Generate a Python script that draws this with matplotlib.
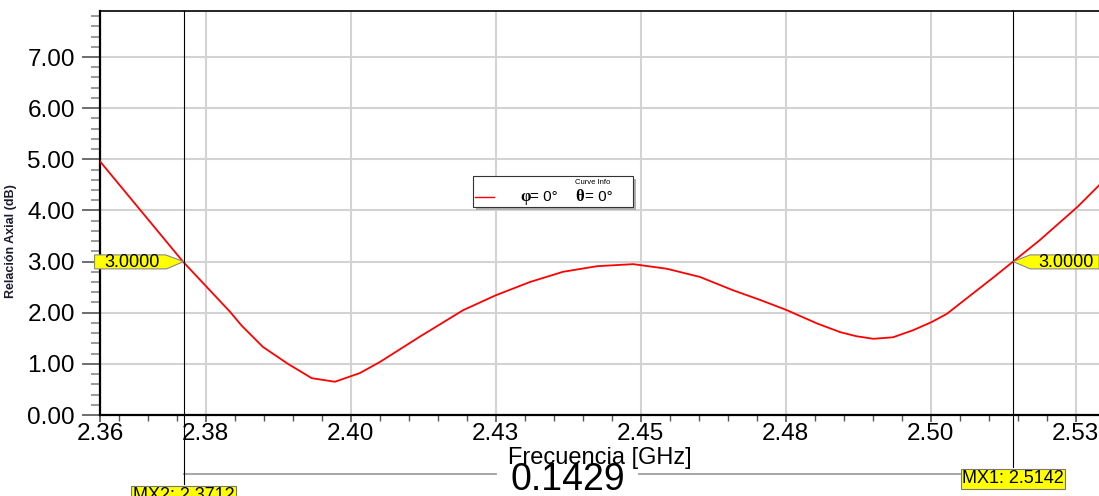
import numpy as np
import matplotlib
matplotlib.use('Agg')
from matplotlib import pyplot as plt
from matplotlib.patches import Polygon, Rectangle
from matplotlib.transforms import ScaledTranslation, blended_transform_factory

plt.rcParams['font.family'] = ['Liberation Sans', 'DejaVu Sans']

# curve (GHz, dB)
freq = [2.3568, 2.3711, 2.3749, 2.3792, 2.3812, 2.3849, 2.3892, 2.3933, 2.3973,
        2.4016, 2.4051, 2.4119, 2.4194, 2.4250, 2.4309, 2.4366, 2.4425, 2.4487,
        2.4545, 2.4602, 2.4659, 2.4706, 2.4752, 2.4804, 2.4844, 2.4872, 2.4901,
        2.4935, 2.4970, 2.5002, 2.5028, 2.5073, 2.5108, 2.5142, 2.5188, 2.5253,
        2.5290]
axial = [4.96, 3.00, 2.54, 2.02, 1.75, 1.33, 1.00, 0.72, 0.65,
         0.82, 1.04, 1.53, 2.05, 2.34, 2.60, 2.80, 2.91, 2.95,
         2.86, 2.70, 2.44, 2.25, 2.05, 1.79, 1.62, 1.54, 1.49,
         1.52, 1.66, 1.82, 1.98, 2.38, 2.69, 3.00, 3.42, 4.07,
         4.49]

marker_names = ['MX2', 'MX1']
marker_freq = [2.3712, 2.5142]
marker_level = 3.0
delta_text = '0.1429'

x_ticks = [2.3568, 2.375, 2.400, 2.425, 2.450, 2.475, 2.500, 2.525]
x_labels = ['2.36', '2.38', '2.40', '2.43', '2.45', '2.48', '2.50', '2.53']
y_ticks = [0, 1, 2, 3, 4, 5, 6, 7]
y_labels = ['0.00', '1.00', '2.00', '3.00', '4.00', '5.00', '6.00', '7.00']

fig = plt.figure(figsize=(10.99, 4.96), dpi=100)
ax = fig.add_axes([100/1099, 81/496, 999/1099, 404/496])

ax.plot(freq, axial, color='red', lw=1.3, zorder=4)

ax.set_xlim(2.3568, 2.5290)
ax.set_ylim(0, 7.9)
ax.set_xticks(x_ticks)
ax.set_xticklabels(x_labels)
ax.set_xticks(np.arange(2.360, 2.530, 0.005), minor=True)
ax.set_yticks(y_ticks)
ax.set_yticklabels(y_labels)
ax.set_yticks(np.arange(0, 7.9, 0.2), minor=True)

ax.grid(True, which='major', color='#d3d3d3', lw=1.5)
ax.tick_params(axis='x', which='major', length=5, width=1.2, color='#555555',
               labelsize=17.5, pad=1)
ax.tick_params(axis='x', which='minor', length=4, width=1.0, color='#555555')
ax.tick_params(axis='y', which='major', length=13, width=1.2, color='#555555',
               labelsize=17.5, pad=5)
ax.tick_params(axis='y', which='minor', length=6.5, width=1.2, color='#888888')

ax.spines['right'].set_visible(False)
ax.spines['top'].set_linewidth(1.2)
ax.spines['left'].set_linewidth(1.6)
ax.spines['bottom'].set_linewidth(1.6)

ax.set_xlabel('Frecuencia [GHz]', fontsize=17, labelpad=1)
ax.set_ylabel('Relación Axial (dB)', fontsize=9, fontweight='bold', color='#1b1b2f')
ax.yaxis.set_label_coords(-0.083, 0.43)

# markers
xb = blended_transform_factory(ax.transData, ax.transAxes)
line_bottom = [-0.171, -0.129]
label_y = [-0.20, -0.158]
for name, f, yb, ly in zip(marker_names, marker_freq, line_bottom, label_y):
    ax.axvline(f, ymin=yb, ymax=1, color='black', lw=0.8, clip_on=False, zorder=5)
    ax.text(f, ly, '%s: %.4f' % (name, f), transform=xb, ha='center', va='center',
            fontsize=13, clip_on=False, zorder=7,
            bbox=dict(boxstyle='square,pad=0.08', fc='#ffff00', ec='#777777', lw=0.8))

# yellow level flags
left_pts = [(-0.89, 0.067), (-0.18, 0.067), (0, 0), (-0.17, -0.073), (-0.89, -0.073)]
right_pts = [(0, 0), (0.17, 0.067), (0.86, 0.067), (0.86, -0.073), (0.17, -0.073)]
for f, pts, tx in zip(marker_freq, [left_pts, right_pts], [-0.52, 0.53]):
    tr = fig.dpi_scale_trans + ScaledTranslation(f, marker_level, ax.transData)
    ax.add_patch(Polygon(pts, closed=True, transform=tr, fc='#ffff00', ec='#888888',
                         lw=0.8, clip_on=False, zorder=6))
    ax.text(tx, -0.005, '%.4f' % marker_level, transform=tr, ha='center', va='center',
            fontsize=13, clip_on=False, zorder=7)

# delta line between markers
dy = -0.146
mid = (marker_freq[0] + marker_freq[1]) / 2 - 0.0053
gap = 0.0123
ax.plot([marker_freq[0], mid - gap], [dy, dy], transform=xb, color='#a0a0a0', lw=1.3,
        clip_on=False)
ax.plot([mid + gap, marker_freq[1]], [dy, dy], transform=xb, color='#a0a0a0', lw=1.3,
        clip_on=False)
ax.text(mid, dy - 0.014, delta_text, transform=xb, ha='center', va='center',
        fontsize=27, clip_on=False)

# curve info box
lx0, ly0, lw_, lh = 0.3734, 0.5149, 0.1602, 0.0767
ax.add_patch(Rectangle((lx0 + 0.003, ly0 - 0.0074), lw_, lh, transform=ax.transAxes,
                       fc='#b0b0b0', ec='none', zorder=8))
ax.add_patch(Rectangle((lx0, ly0), lw_, lh, transform=ax.transAxes,
                       fc='white', ec='#333333', lw=0.8, zorder=9))
ax.text(0.4935, 0.5767, 'Curve Info', transform=ax.transAxes, fontsize=5.5,
        ha='center', va='center', zorder=10)
ax.plot([0.3754, 0.3944], [0.5396, 0.5396], transform=ax.transAxes, color='red',
        lw=1.0, zorder=10)
ax.text(0.4204, 0.5396, 'φ', transform=ax.transAxes, fontsize=12, fontweight='bold',
        family='Liberation Serif', ha='left', va='center', zorder=10)
ax.text(0.4304, 0.5396, '= 0°', transform=ax.transAxes, fontsize=11,
        ha='left', va='center', zorder=10)
ax.text(0.4755, 0.5396, 'θ', transform=ax.transAxes, fontsize=12, fontweight='bold',
        family='Liberation Serif', ha='left', va='center', zorder=10)
ax.text(0.4855, 0.5396, '= 0°', transform=ax.transAxes, fontsize=11,
        ha='left', va='center', zorder=10)

plt.savefig('out.png', dpi=100)
